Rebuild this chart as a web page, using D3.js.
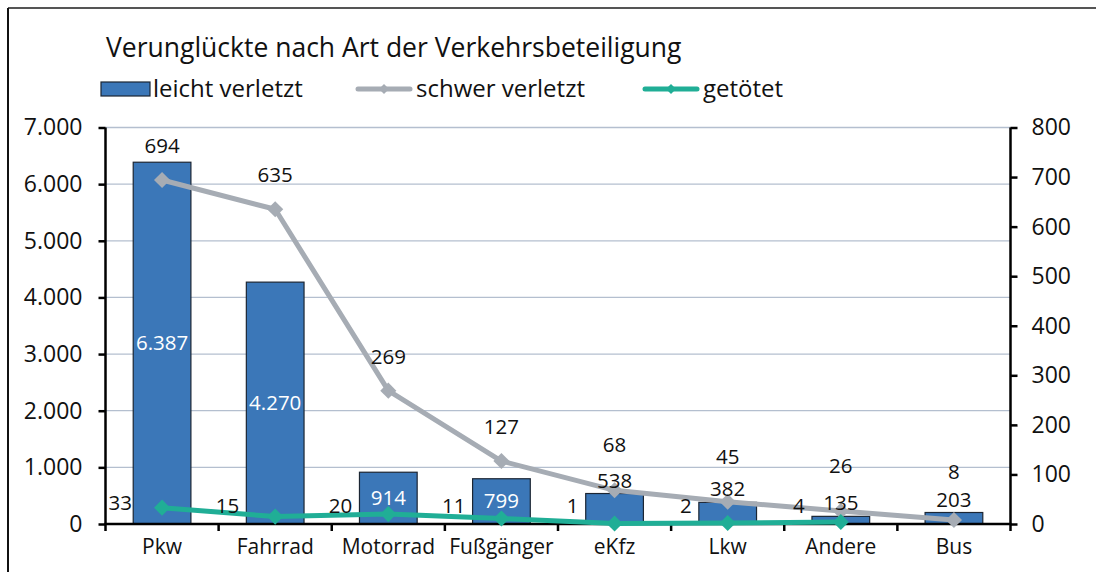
<!DOCTYPE html>
<html>
<head>
<meta charset="utf-8">
<script src="https://cdn.jsdelivr.net/npm/d3@7"></script>
<style>
  html, body { margin: 0; padding: 0; background: #fff; }
  svg text { font-family: "Open Sans", "Noto Sans", sans-serif; fill: #111; }
</style>
</head>
<body>
<svg id="chart" width="1096" height="572"></svg>
<script>
'use strict';

/******************** Data ********************/

var categories = ["Pkw", "Fahrrad", "Motorrad", "Fußgänger", "eKfz", "Lkw", "Andere", "Bus"];
var leichtVerletzt = [6387, 4270, 914, 799, 538, 382, 135, 203];
var schwerVerletzt = [694, 635, 269, 127, 68, 45, 26, 8];
var getoetet = [33, 15, 20, 11, 1, 2, 4, null];
var leftTicks = [0, 1000, 2000, 3000, 4000, 5000, 6000, 7000];
var rightTicks = [0, 100, 200, 300, 400, 500, 600, 700, 800];
var seriesNames = ["leicht verletzt", "schwer verletzt", "getötet"];
var chartTitle = "Verunglückte nach Art der Verkehrsbeteiligung";

/******************** Layout ********************/

var width = 1096, height = 572;
var plot = { left: 105.5, right: 1010.5, top: 127.5, bottom: 524 };

var barColor = "#3b77b8";
var grayColor = "#a6acb4";
var greenColor = "#20ae96";
var gridColor = "#b4bfcf";
var fontFamily = "'Open Sans', sans-serif";

var de = d3.formatLocale({ decimal: ",", thousands: ".", grouping: [3], currency: ["", " €"] });
var fmt = de.format(",d");

var svg = d3.select("#chart");

// frame
svg.append("line").attr("x1", 8).attr("y1", 8).attr("x2", width).attr("y2", 8)
  .attr("stroke", "#555").attr("stroke-width", 2);
svg.append("line").attr("x1", 8).attr("y1", 8).attr("x2", 8).attr("y2", height)
  .attr("stroke", "#111").attr("stroke-width", 2);

/******************** Scales ********************/

var x = d3.scaleBand().domain(categories).range([plot.left, plot.right]).paddingInner(0.49).paddingOuter(0.245);
var xStep = d3.scaleBand().domain(categories).range([plot.left, plot.right]);
var yL = d3.scaleLinear().domain([0, 7000]).range([plot.bottom, plot.top]);
var yR = d3.scaleLinear().domain([0, 800]).range([plot.bottom, plot.top]);
var cx = function(c) { return xStep(c) + xStep.bandwidth() / 2; };

/******************** Grid ********************/

svg.append("g").selectAll("line").data(leftTicks.filter(function(d) { return d > 0; }))
  .enter().append("line")
  .attr("x1", plot.left).attr("x2", plot.right)
  .attr("y1", function(d) { return yL(d); }).attr("y2", function(d) { return yL(d); })
  .attr("stroke", gridColor).attr("stroke-width", 1.3);

/******************** Bars ********************/

var bars = svg.append("g");
bars.selectAll("rect").data(leichtVerletzt).enter().append("rect")
  .attr("x", function(d, i) { return x(categories[i]); })
  .attr("width", x.bandwidth())
  .attr("y", function(d) { return yL(d); })
  .attr("height", function(d) { return plot.bottom - yL(d); })
  .attr("fill", barColor).attr("stroke", "#1c2633").attr("stroke-width", 1.2);

/******************** Axes ********************/

var axisFont = 23;

var leftAxis = svg.append("g").attr("transform", "translate(" + plot.left + ",0)")
  .call(d3.axisLeft(yL).tickValues(leftTicks).tickSize(7).tickPadding(16).tickFormat(fmt));
var rightAxis = svg.append("g").attr("transform", "translate(" + plot.right + ",0)")
  .call(d3.axisRight(yR).tickValues(rightTicks).tickSize(7).tickPadding(14).tickFormat(fmt));
var bottomAxis = svg.append("g").attr("transform", "translate(0," + plot.bottom + ")")
  .call(d3.axisBottom(xStep).tickSize(0).tickPadding(15));

[leftAxis, rightAxis, bottomAxis].forEach(function(a) {
  a.selectAll("path.domain").attr("stroke", "#000").attr("stroke-width", 2.5);
  a.selectAll(".tick line").attr("stroke", "#000").attr("stroke-width", 2.5);
  a.selectAll("text").attr("font-size", axisFont).attr("font-family", fontFamily).attr("fill", "#111");
});
leftAxis.select("path.domain").attr("d", "M0," + plot.bottom + "V" + plot.top);
rightAxis.select("path.domain").attr("d", "M0," + plot.bottom + "V" + plot.top);
bottomAxis.select("path.domain").attr("d", "M" + (plot.left - 1) + ",0H" + (plot.right + 1));
bottomAxis.selectAll(".tick text").attr("font-size", 21);

// category boundary ticks
svg.append("g").selectAll("line").data(categories.concat(["_end"]))
  .enter().append("line")
  .attr("x1", function(d, i) { return plot.left + i * xStep.step(); })
  .attr("x2", function(d, i) { return plot.left + i * xStep.step(); })
  .attr("y1", plot.bottom).attr("y2", plot.bottom + 7)
  .attr("stroke", "#000").attr("stroke-width", 2.5);

/******************** Lines ********************/

var diamond = d3.symbol().type(d3.symbolSquare).size(130);

function drawLine(values, color) {
  var pts = values.map(function(v, i) { return { c: categories[i], v: v }; })
    .filter(function(d) { return d.v !== null; });
  var line = d3.line().x(function(d) { return cx(d.c); }).y(function(d) { return yR(d.v); });
  svg.append("path").datum(pts).attr("d", line)
    .attr("fill", "none").attr("stroke", color).attr("stroke-width", 5).attr("stroke-linejoin", "round");
  svg.append("g").selectAll("path").data(pts).enter().append("path")
    .attr("d", diamond)
    .attr("transform", function(d) { return "translate(" + cx(d.c) + "," + yR(d.v) + ") rotate(45)"; })
    .attr("fill", color);
  return pts;
}

drawLine(schwerVerletzt, grayColor);
drawLine(getoetet, greenColor);

/******************** Data labels ********************/

var labelFont = 20.5;
var insideMin = 40;

function barInside(v) { return plot.bottom - yL(v) > insideMin; }
function barLabelY(v) {
  var h = plot.bottom - yL(v);
  return barInside(v) ? yL(v) + h / 2 + 7 : yL(v) - 6;
}

// bar labels
svg.append("g").selectAll("text").data(leichtVerletzt).enter().append("text")
  .attr("x", function(d, i) { return cx(categories[i]); })
  .attr("y", barLabelY)
  .attr("text-anchor", "middle").attr("font-size", labelFont)
  .style("fill", function(d) { return barInside(d) ? "#fff" : "#111"; })
  .text(fmt);

// schwer verletzt labels
svg.append("g").selectAll("text").data(schwerVerletzt).enter().append("text")
  .attr("x", function(d, i) { return cx(categories[i]); })
  .attr("y", function(d, i) {
    var b = leichtVerletzt[i];
    if (barInside(b)) return yR(d) - 27;
    return Math.min(yR(d) - 38, barLabelY(b) - 28);
  })
  .attr("text-anchor", "middle").attr("font-size", labelFont)
  .text(fmt);

// getötet labels
svg.append("g").selectAll("text").data(getoetet.filter(function(d) { return d !== null; })).enter().append("text")
  .attr("x", function(d, i) { return cx(categories[i]) - (i === 0 ? 30 : 36); })
  .attr("y", function(d) { return Math.min(yR(d) - 5, 506) + 7; })
  .attr("text-anchor", "end").attr("font-size", labelFont)
  .text(fmt);

/******************** Title & legend ********************/

svg.append("text").attr("x", 106).attr("y", 57).attr("font-size", 26.5).text(chartTitle);

var legend = svg.append("g");
legend.append("rect").attr("x", 101).attr("y", 82).attr("width", 49).attr("height", 14)
  .attr("fill", barColor).attr("stroke", "#1c2633").attr("stroke-width", 1.2);
legend.append("text").attr("x", 153).attr("y", 97).attr("font-size", 24).text(seriesNames[0]);

[[358, grayColor, seriesNames[1]], [645, greenColor, seriesNames[2]]].forEach(function(l) {
  legend.append("line").attr("x1", l[0]).attr("x2", l[0] + 52).attr("y1", 89).attr("y2", 89)
    .attr("stroke", l[1]).attr("stroke-width", 5).attr("stroke-linecap", "round");
  legend.append("path").attr("d", d3.symbol().type(d3.symbolSquare).size(50))
    .attr("transform", "translate(" + (l[0] + 26) + ",89) rotate(45)").attr("fill", l[1]);
  legend.append("text").attr("x", l[0] + 58).attr("y", 97).attr("font-size", 24).text(l[2]);
});
</script>
</body>
</html>
